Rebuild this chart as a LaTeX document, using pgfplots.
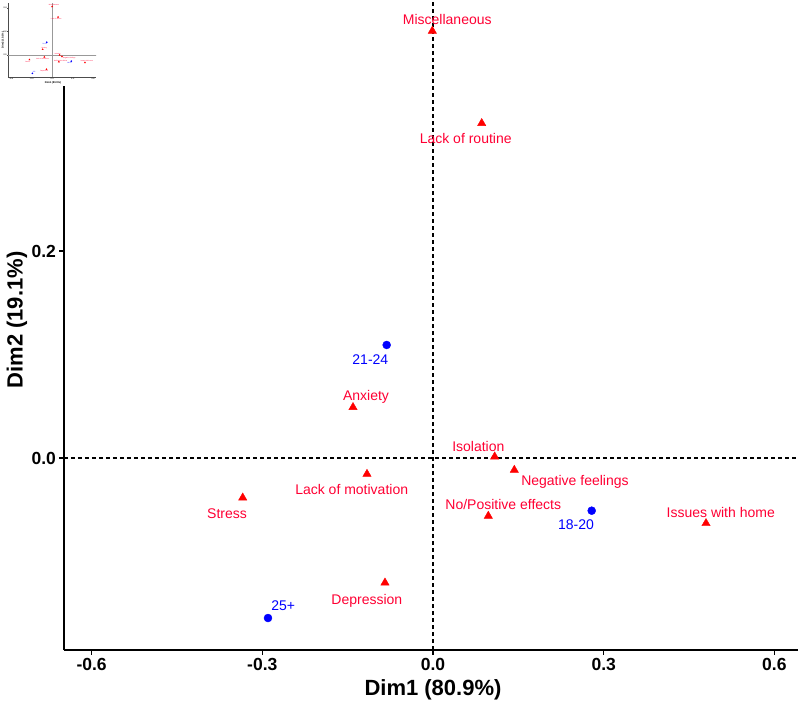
\documentclass[border=0pt]{standalone}
\usepackage{pgfplots}
\pgfplotsset{compat=1.18}
\usepackage{pgfplotstable}
\usepackage{fontspec}
\setmainfont{Liberation Sans}

\definecolor{colred}{RGB}{255,0,0}
\definecolor{rowblue}{RGB}{0,0,255}
\definecolor{labred}{RGB}{255,0,51}

% Column categories (problems reported)
\pgfplotstableread{
x        y
-0.0012  0.4126
0.0856   0.3234
-0.1406  0.0490
0.1084   0.0013
0.1429   -0.0116
-0.1160  -0.0155
-0.3344  -0.0384
0.0972   -0.0560
0.4798   -0.0631
-0.0844  -0.1205
}\colpts

% Row categories (age groups)
\pgfplotstableread{
x        y
0.2789   -0.0509
-0.0814  0.1092
-0.2900  -0.1546
}\rowpts

\newcommand{\collabels}[1]{%
  \node[#1] at (axis cs:0.0251,0.4232) {Miscellaneous};
  \node[#1] at (axis cs:0.0575,0.3089) {Lack of routine};
  \node[#1] at (axis cs:-0.1177,0.0587) {Anxiety};
  \node[#1] at (axis cs:0.0797,0.0109) {Isolation};
  \node[#1] at (axis cs:0.2495,-0.0229) {Negative feelings};
  \node[#1] at (axis cs:-0.1429,-0.0309) {Lack of motivation};
  \node[#1] at (axis cs:-0.3620,-0.0541) {Stress};
  \node[#1] at (axis cs:0.1235,-0.0454) {No/Positive effects};
  \node[#1] at (axis cs:0.5057,-0.0525) {Issues with home};
  \node[#1] at (axis cs:-0.1163,-0.1379) {Depression};
}
\newcommand{\rowlabels}[1]{%
  \node[#1] at (axis cs:0.2513,-0.0647) {18-20};
  \node[#1] at (axis cs:-0.1101,0.0947) {21-24};
  \node[#1] at (axis cs:-0.2631,-0.1430) {25+};
}

\pgfplotsset{
  cabiplot/.style={
    scale only axis, anchor=south west,
    xmin=-0.6485, xmax=0.6415, ymin=-0.1855, ymax=0.4425,
    axis x line*=bottom, axis y line*=left,
    axis line style={-},
    xtick={-0.6,-0.3,0,0.3,0.6}, ytick={0,0.2,0.4},
    tick align=outside,
    minor tick num=0,
    /pgf/number format/.cd, fixed, fixed zerofill, precision=1,
    assume math mode=true, /pgfplots/.cd,
    clip=false,
  },
}

\begin{document}
\begin{tikzpicture}
% main biplot
\begin{axis}[cabiplot,
  at={(0pt,0pt)}, width=734pt, height=650pt,
  axis line style={line width=1.4pt, black},
  major tick length=4.5pt,
  tick style={line width=1.2pt, black},
  ticklabel style={font=\bfseries\fontsize{17.5}{20}\selectfont, text=black},
]
\addplot[black, line width=1.2pt, dash pattern=on 4pt off 3pt, forget plot]
  coordinates {(0,-0.1855) (0,0.4425)};
\addplot[black, line width=1.2pt, dash pattern=on 4pt off 3pt, forget plot]
  coordinates {(-0.6485,0) (0.6415,0)};
\addplot[only marks, mark=triangle*, mark size=4.8pt, colred,
  mark options={draw=colred, fill=colred}] table[x=x, y=y] {\colpts};
\addplot[only marks, mark=*, mark size=4pt, rowblue,
  mark options={draw=rowblue, fill=rowblue}] table[x=x, y=y] {\rowpts};
\collabels{text=labred, font=\fontsize{14}{16}\selectfont}
\rowlabels{text=rowblue, font=\fontsize{14}{16}\selectfont}
\end{axis}
\node[font=\bfseries\fontsize{22}{24}\selectfont] at (369pt,-40pt) {Dim1 (80.9\%)};
\node[font=\bfseries\fontsize{22}{24}\selectfont, rotate=90] at (-47pt,330pt) {Dim2 (19.1\%)};

% thumbnail of the same biplot
\fill[white] (-64pt,564pt) rectangle (44pt,650pt);
\begin{axis}[cabiplot,
  at={(-56pt,573pt)}, width=88pt, height=74pt,
  axis line style={line width=0.3pt, black!70},
  major tick length=0.8pt,
  tick style={line width=0.2pt, black!70},
  ticklabel style={font=\bfseries\fontsize{2.2}{2.6}\selectfont, text=black!80, inner sep=0.4pt},
]
\addplot[black!40, line width=0.25pt, dash pattern=on 0.6pt off 0.4pt, forget plot]
  coordinates {(0,-0.1855) (0,0.4425)};
\addplot[black!40, line width=0.25pt, dash pattern=on 0.6pt off 0.4pt, forget plot]
  coordinates {(-0.6485,0) (0.6415,0)};
\addplot[only marks, mark=triangle*, mark size=0.7pt, colred,
  mark options={draw=colred, fill=colred}] table[x=x, y=y] {\colpts};
\addplot[only marks, mark=*, mark size=0.6pt, rowblue,
  mark options={draw=rowblue, fill=rowblue}] table[x=x, y=y] {\rowpts};
\collabels{text=labred, font=\fontsize{1.6}{1.8}\selectfont, inner sep=0pt}
\rowlabels{text=rowblue, font=\fontsize{1.6}{1.8}\selectfont, inner sep=0pt}
\end{axis}
\node[font=\bfseries\fontsize{2.6}{3}\selectfont] at (-11pt,567pt) {Dim1 (80.9\%)};
\node[font=\bfseries\fontsize{2.6}{3}\selectfont, rotate=90] at (-61pt,610pt) {Dim2 (19.1\%)};
\pgfresetboundingbox
\path[use as bounding box] (-64pt,-55pt) rectangle (734pt,650pt);
\end{tikzpicture}
\end{document}
